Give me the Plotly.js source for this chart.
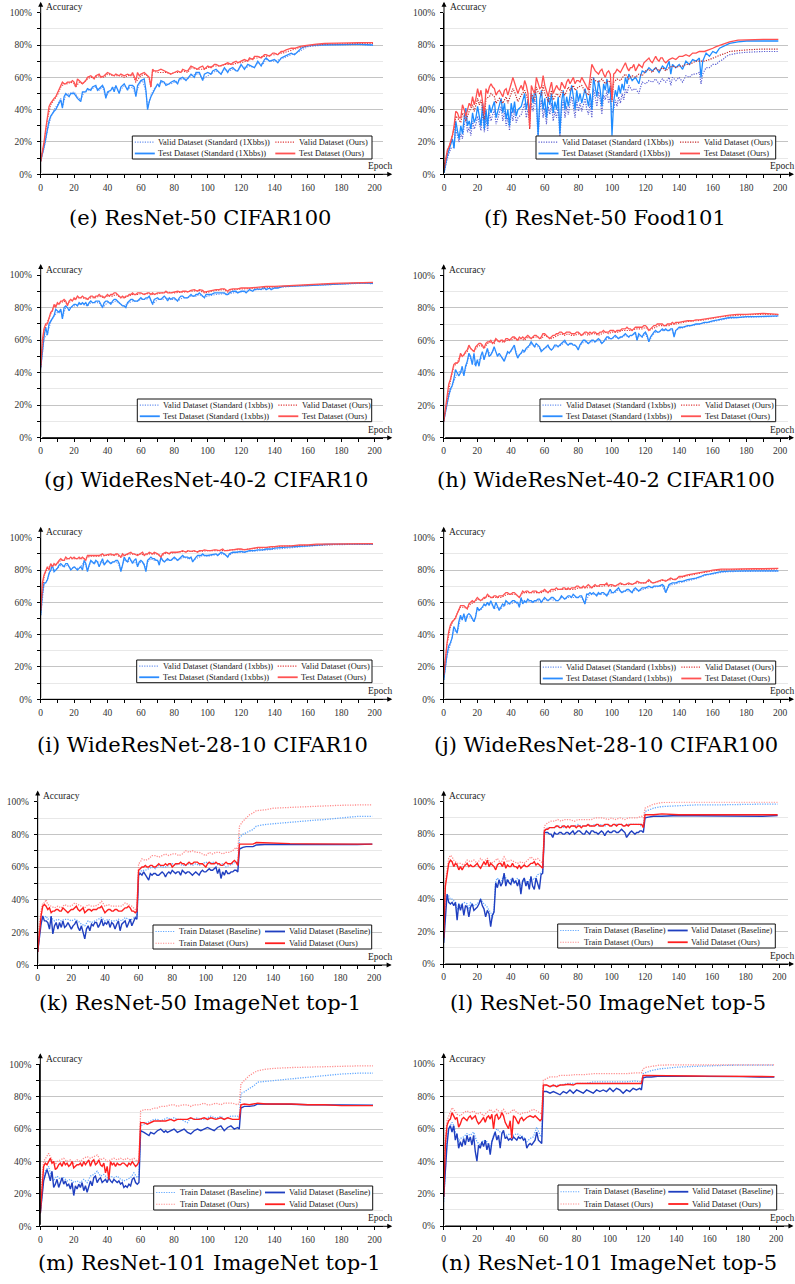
<!DOCTYPE html>
<html><head><meta charset="utf-8">
<script src="https://cdn.plot.ly/plotly-3.0.1.min.js"></script>
<style>html,body{margin:0;padding:0;background:#fff}#chart{width:795px;height:1284px}</style>
</head><body><div id="chart"></div>
<script>
// ===== DATA: [epoch, accuracy %] =====
const e_validStd=[[0,9],[2,16],[4,27],[6,35],[8,40],[10,43],[12,47],[13,42],[15,49],[18,50],[20,51],[22,48],[24,46],[26,51],[28,52],[30,53],[33,54],[35,52],[37,54],[39,48],[41,51],[43,53],[45,54],[47,51],[50,55],[52,53],[55,54],[57,49],[59,56],[61,58],[63,51],[64,41],[66,49],[68,53],[70,55],[72,57],[75,56],[78,56],[80,57],[83,58],[85,59],[88,59],[90,61],[93,62],[95,62],[97,59],[100,61],[103,63],[105,64],[108,62],[110,65],[113,64],[115,65],[118,64],[120,67],[123,66],[125,67],[128,66],[130,69],[133,68],[135,71],[138,70],[140,70],[143,71],[145,72],[148,73],[150,74],[153,75],[155,76],[158,78],[160,79],[165,79.5],[170,80],[180,80],[190,80.2],[199,79.7]];
const e_testStd=[[0,8],[1,12],[2,17],[3,22],[4,28],[5,33],[6,36],[7,38],[8,39],[9,40],[10,42],[11,44],[12,46],[13,41],[14,48],[15,50],[17,48],[18,50],[20,50],[22,47],[24,45],[25,51],[27,51],[28,53],[30,52],[31,54],[33,55],[34,52],[35,53],[37,55],[38,53],[39,47],[40,51],[42,52],[43,54],[44,51],[45,55],[47,50],[48,54],[50,56],[52,52],[53,55],[55,55],[56,54],[57,48],[58,55],[60,58],[62,59],[63,52],[64,40],[65,45],[66,48],[68,52],[70,56],[71,54],[72,58],[74,57],[75,55],[77,56],[78,57],[80,58],[82,56],[83,59],[85,60],[87,58],[89,61],[90,62],[92,60],[93,63],[95,63],[96,60],[97,58],[98,62],[100,63],[102,62],[103,64],[105,65],[107,63],[108,62],[110,66],[112,63],[113,65],[115,66],[117,64],[118,64],[120,68],[122,65],[124,68],[126,67],[128,66],[130,70],[132,67],[134,71],[135,72],[137,70],[139,71],[140,71],[142,69],[144,72],[146,73],[148,74],[150,75],[152,74],[154,76],[156,78],[158,79],[160,79.5],[165,80],[170,80],[180,80.3],[190,80.5],[195,80.3],[199,80]];
const e_validOurs=[[0,8],[2,19],[4,34],[6,43],[8,46],[10,49],[12,54],[14,56],[16,56],[18,57],[20,56],[21,54],[23,57],[25,56],[28,59],[30,60],[33,60],[35,61],[38,60],[40,62],[43,61],[45,61],[48,61],[50,60],[53,61],[55,62],[57,57],[59,60],[60,61],[63,62],[65,59],[66,54],[67,64],[70,63],[73,63],[75,63],[78,62],[80,63],[83,63],[85,64],[88,63],[90,66],[93,65],[95,65],[98,65],[100,66],[103,67],[105,67],[108,67],[110,68],[113,68],[115,68],[118,69],[120,69],[123,70],[125,71],[128,72],[130,72],[133,73],[135,73],[138,74],[140,74],[143,75],[145,75],[148,76],[150,77],[153,78],[155,78.5],[158,79],[160,79.5],[165,80],[170,80.5],[180,80.8],[190,81],[199,81]];
const e_testOurs=[[0,8],[1,13],[2,20],[3,28],[4,35],[5,42],[6,44],[7,46],[8,47],[9,48],[10,50],[11,53],[12,55],[13,57],[14,56],[15,56],[16,57],[18,57],[19,58],[20,57],[21,54],[22,59],[23,58],[25,56],[26,57],[27,58],[28,60],[30,61],[31,60],[32,59],[33,61],[35,62],[36,60],[38,61],[40,63],[42,62],[44,61],[45,62],[47,61],[48,62],[50,61],[52,62],[54,61],[55,63],[56,61],[57,58],[58,63],[59,61],[60,62],[62,63],[64,61],[65,60],[66,54],[67,65],[68,64],[70,64],[72,65],[74,64],[75,64],[77,63],[78,62],[80,63],[82,64],[84,63],[85,65],[87,64],[88,64],[90,67],[92,66],[94,65],[95,66],[97,67],[98,65],[100,67],[102,66],[104,68],[105,68],[107,67],[110,68],[112,69],[114,68],[115,69],[117,70],[118,69],[120,70],[122,71],[124,70],[125,72],[127,71],[128,73],[130,73],[132,72],[134,74],[135,74],[137,73],[139,75],[140,75],[142,74],[144,76],[145,76],[147,77],[150,78],[152,78],[154,79],[155,79],[157,79.5],[160,80],[165,80.5],[170,81],[175,81],[180,81],[185,81.3],[190,81.5],[195,81.5],[199,81.5]];

const f_validStd=[[0,1],[2,10],[4,16],[6,17],[7,28],[8,24],[9,20],[10,25],[11,22],[12,30],[13,36],[14,26],[15,29],[16,24],[17,33],[18,28],[19,31],[20,36],[21,32],[22,27],[23,39],[24,26],[25,35],[26,27],[27,38],[28,33],[29,37],[30,40],[31,31],[32,35],[33,38],[34,42],[35,33],[36,39],[37,30],[38,35],[39,27],[40,39],[41,33],[42,40],[43,32],[44,35],[46,37],[48,44],[49,35],[50,40],[51,33],[52,44],[53,39],[54,46],[55,42],[56,22],[57,40],[58,46],[59,35],[60,41],[61,31],[62,42],[63,37],[64,44],[65,33],[66,39],[67,35],[68,42],[69,22],[70,39],[71,46],[72,35],[73,42],[74,37],[75,44],[76,48],[77,42],[78,35],[79,46],[80,39],[81,44],[82,39],[84,47],[85,40],[86,37],[87,44],[88,35],[89,53],[90,48],[91,42],[92,51],[93,46],[94,37],[95,49],[96,46],[97,52],[98,44],[99,48],[100,38],[101,40],[102,46],[103,42],[104,48],[105,44],[106,50],[107,46],[108,53],[109,50],[110,55],[112,52],[114,53],[116,50],[117,54],[118,57],[120,56],[122,58],[124,57],[126,59],[128,56],[130,59],[132,57],[134,60],[135,55],[136,60],[138,58],[140,60],[142,57],[144,61],[146,60],[148,62],[150,62],[152,63],[153,56],[154,62],[156,66],[158,66],[160,68],[162,68],[164,70],[166,71],[168,73],[170,74],[175,75],[180,75.5],[190,76],[199,76]];
const f_testStd=[[0,1],[1,8],[2,12],[3,15],[4,18],[5,22],[6,16],[7,33],[8,27],[9,22],[10,30],[11,25],[12,35],[13,41],[14,30],[15,33],[16,28],[17,38],[18,32],[19,35],[20,42],[21,36],[22,30],[23,44],[24,28],[25,40],[26,30],[27,43],[28,38],[29,42],[30,45],[31,35],[32,40],[33,43],[34,47],[35,38],[36,44],[37,34],[38,40],[39,30],[40,44],[41,38],[42,45],[43,36],[44,40],[46,42],[48,50],[49,40],[50,46],[51,38],[52,50],[53,44],[54,52],[55,48],[56,24],[57,46],[58,52],[59,40],[60,47],[61,35],[62,48],[63,43],[64,50],[65,38],[66,45],[67,40],[68,48],[69,25],[70,45],[71,52],[72,40],[73,48],[74,42],[75,50],[76,55],[77,48],[78,40],[79,52],[80,45],[81,50],[82,44],[84,53],[85,46],[86,42],[87,50],[88,40],[89,60],[90,55],[91,48],[92,58],[93,52],[94,42],[95,56],[96,52],[97,59],[98,50],[99,55],[100,24],[101,45],[102,52],[103,48],[104,55],[105,50],[106,56],[107,52],[108,60],[109,56],[110,62],[112,58],[114,60],[116,56],[117,61],[118,64],[120,63],[122,66],[124,64],[126,66],[128,63],[130,67],[132,65],[134,70],[135,62],[136,68],[138,66],[140,68],[142,65],[144,70],[146,68],[148,71],[150,70],[152,72],[153,60],[154,70],[156,75],[158,73],[160,76],[162,75],[164,78],[166,79],[168,80],[170,81],[175,82],[180,82.5],[190,82.5],[199,82.5]];
const f_validOurs=[[0,5],[2,14],[4,20],[6,28],[7,36],[8,35],[10,32],[11,38],[12,36],[13,33],[15,39],[17,43],[18,39],[20,47],[21,43],[22,46],[23,40],[24,34],[25,47],[27,48],[28,50],[30,48],[31,44],[33,47],[35,44],[37,48],[38,44],[40,50],[41,53],[42,51],[44,45],[46,49],[48,52],[50,46],[51,28],[52,50],[54,46],[55,54],[56,51],[58,49],[59,55],[60,50],[62,45],[63,48],[64,52],[65,46],[67,50],[69,48],[70,52],[72,49],[74,54],[75,52],[77,55],[78,52],[80,54],[82,55],[84,51],[86,49],[88,60],[90,58],[92,57],[94,59],[96,56],[98,58],[99,57],[100,45],[101,57],[103,59],[105,58],[107,61],[108,62],[110,59],[112,61],[114,60],[116,62],[118,61],[120,64],[122,65],[124,63],[126,66],[128,64],[130,66],[132,64],[134,66],[136,67],[138,66],[140,67],[142,67],[144,68],[146,68],[148,69],[150,70],[152,70],[155,70],[158,71],[160,72],[162,73],[165,74],[168,75],[170,76],[175,76.5],[180,77],[190,77.5],[199,77.5]];
const f_testOurs=[[0,3],[1,8],[2,15],[3,17],[4,20],[5,24],[6,30],[7,39],[8,38],[9,35],[10,35],[11,43],[12,40],[13,36],[14,40],[15,44],[16,42],[17,48],[18,43],[19,47],[20,53],[21,48],[22,52],[23,44],[24,37],[25,53],[26,50],[27,54],[28,56],[29,54],[30,53],[31,49],[32,51],[33,52],[34,50],[35,48],[36,52],[37,53],[38,49],[39,52],[40,56],[41,60],[42,57],[43,54],[44,50],[45,53],[46,55],[47,52],[48,58],[49,55],[50,50],[51,29],[52,55],[53,52],[54,50],[55,60],[56,57],[57,53],[58,54],[59,61],[60,55],[61,52],[62,48],[63,53],[64,57],[65,50],[66,53],[67,55],[68,53],[69,52],[70,57],[71,55],[72,53],[73,57],[74,59],[75,56],[76,58],[77,60],[78,56],[79,58],[80,58],[81,57],[82,60],[83,58],[84,55],[85,54],[86,52],[87,60],[88,68],[89,66],[90,64],[91,63],[92,62],[93,64],[94,65],[95,62],[96,60],[97,63],[98,64],[99,62],[100,46],[101,62],[102,63],[103,65],[104,64],[105,63],[106,65],[107,67],[108,69],[109,66],[110,64],[111,66],[112,66],[113,68],[114,64],[115,66],[116,68],[117,67],[118,66],[119,69],[120,70],[121,71],[122,72],[123,70],[124,69],[125,71],[126,73],[127,71],[128,70],[129,72],[130,72],[131,70],[132,69],[134,71],[136,72],[138,71],[140,73],[142,73],[144,74],[146,73],[148,75],[150,75],[152,76],[155,76],[158,77],[160,78],[162,79],[165,80],[168,81],[170,82],[175,83],[180,83.3],[190,83.5],[199,83.5]];

const g_validStd=[[0,42],[2,61],[4,64],[6,71],[8,75],[10,77],[12,78],[13,74],[15,80],[18,80],[20,81],[23,82],[25,82],[28,81],[30,83],[33,83],[35,83],[37,80],[40,83],[43,83],[45,84],[48,82],[50,81],[53,83],[55,84],[58,84],[60,85],[63,85],[65,86],[67,82],[70,85],[73,85],[75,86],[78,85],[80,85],[82,84],[85,86],[88,86],[90,87],[93,87],[95,88],[98,86],[100,87],[105,88],[110,88.5],[112,88],[115,89],[120,89.5],[125,90.5],[130,91],[135,91.5],[140,92],[145,92.5],[150,93],[160,93.5],[170,94],[180,94.3],[190,94.8],[199,94.7]];
const g_testStd=[[0,43],[1,55],[2,62],[3,68],[4,63],[5,70],[6,72],[7,74],[8,75],[9,79],[10,78],[11,77],[12,79],[13,73],[14,80],[15,81],[16,80],[17,78],[18,80],[19,81],[20,82],[21,82],[22,81],[23,83],[24,82],[25,83],[26,82],[27,83],[28,81],[29,83],[30,84],[31,83],[32,83],[33,84],[34,84],[35,84],[36,82],[37,80],[38,83],[39,84],[40,84],[41,83],[42,82],[43,84],[44,85],[45,85],[46,84],[47,83],[48,82],[49,81],[50,81],[51,80],[52,83],[53,84],[54,85],[55,85],[56,84],[58,84],[60,86],[61,85],[62,85],[63,86],[64,86],[65,87],[66,85],[67,82],[68,85],[70,86],[71,85],[72,85],[73,86],[74,87],[75,86],[76,84],[77,86],[78,85],[79,86],[80,86],[81,85],[82,84],[83,86],[84,87],[85,87],[86,86],[87,86],[88,86],[89,87],[90,88],[91,87],[92,87],[93,88],[94,88],[95,89],[96,88],[97,87],[98,86],[99,88],[100,88],[102,88],[104,89],[105,89],[106,89],[108,89],[110,89],[111,88],[112,88],[113,89],[115,90],[117,90],[118,89],[120,90],[122,90],[123,89],[125,91],[127,90],[128,91],[130,91.5],[132,91],[133,92],[134,92],[135,91],[137,92],[138,91],[140,92],[142,92],[145,93],[148,93],[150,93],[155,93.3],[160,93.5],[165,93.8],[170,94],[175,94.3],[180,94.5],[185,94.7],[190,95],[195,95],[199,94.8]];
const g_validOurs=[[0,43],[2,66],[4,71],[6,76],[8,81],[10,82],[12,83],[14,84],[16,82],[18,84],[20,85],[22,86],[25,86],[28,85],[30,86],[33,86],[35,87],[38,86],[40,87],[43,87],[45,88],[48,86],[50,86],[53,87],[55,88],[58,88],[60,88.5],[63,88.5],[65,88.5],[68,88],[70,88.5],[75,89.5],[80,89],[85,89.5],[90,90],[95,90.5],[98,89],[100,89.5],[105,90.5],[110,91],[112,89.5],[115,91],[120,91.5],[125,91.7],[130,92],[140,92.7],[150,93.2],[160,93.8],[170,94.3],[180,94.8],[190,95.1],[199,95.3]];
const g_testOurs=[[0,44],[1,60],[2,67],[3,70],[4,70],[5,74],[6,77],[7,78],[8,82],[9,80],[10,83],[11,82],[12,84],[13,84],[14,85],[15,84],[16,81],[17,84],[18,85],[19,84],[20,86],[21,85],[22,87],[23,86],[24,86],[25,87],[26,86],[27,86],[28,85],[29,86],[30,87],[31,87],[32,86],[33,87],[34,87],[35,88],[36,87],[37,87],[38,86],[39,87],[40,88],[41,87],[42,88],[43,88],[44,89],[45,89],[46,88],[47,87],[48,86],[49,87],[50,86],[51,87],[52,87],[53,88],[54,88],[55,89],[56,88],[57,88],[58,89],[60,89],[62,88],[64,89],[65,89],[66,88],[67,89],[68,88],[70,89],[72,89],[74,89],[75,90],[76,89],[78,89],[80,89.5],[82,90],[84,89.5],[85,90],[87,90],[88,89.5],[90,90.5],[92,91],[94,90],[95,91],[97,90.5],[98,89.5],[100,90],[102,90.5],[104,91],[105,91],[107,91],[108,91.5],[110,91.5],[111,91],[112,90],[113,91],[115,91.5],[118,91.5],[120,92],[125,92],[130,92.5],[135,93],[140,93],[145,93.3],[150,93.5],[155,94],[160,94],[165,94.3],[170,94.5],[175,94.8],[180,95],[185,95.2],[190,95.3],[195,95.5],[199,95.5]];

const h_validStd=[[0,10],[2,21],[4,29],[6,35],[8,40],[10,41],[12,39],[14,46],[15,51],[17,46],[19,45],[20,47],[22,49],[24,49],[26,54],[28,51],[30,55],[32,51],[34,50],[36,48],[38,52],[40,53],[42,56],[44,50],[46,52],[48,53],[50,55],[52,58],[54,56],[56,56],[58,54],[60,55],[62,56],[64,54],[66,56],[68,56],[70,57],[72,59],[74,57],[76,58],[78,57],[80,55],[82,58],[84,59],[86,58],[88,59],[90,59],[92,60],[94,58],[96,60],[98,61],[100,61],[102,62],[104,61],[106,62],[108,63],[110,62],[112,63],[114,64],[115,60],[116,63],[118,62],[120,64],[122,59],[124,63],[126,65],[128,65],[130,66],[132,66],[134,66],[136,66],[137,63],[138,66],[140,67],[145,68.5],[150,69.5],[155,70.5],[160,71.5],[165,72.5],[170,73.5],[175,74],[180,74.2],[190,74.3],[199,74.7]];
const h_testStd=[[0,10],[1,16],[2,22],[3,26],[4,30],[5,32],[6,36],[7,42],[8,40],[9,38],[10,40],[11,44],[12,38],[13,44],[14,47],[15,52],[16,50],[17,45],[18,52],[19,44],[20,48],[21,44],[22,50],[23,53],[24,48],[25,52],[26,55],[27,50],[28,51],[29,53],[30,56],[31,53],[32,50],[33,52],[34,50],[35,48],[36,47],[37,50],[38,53],[39,52],[40,54],[41,55],[42,57],[43,52],[44,49],[45,51],[46,52],[47,54],[48,53],[49,55],[50,56],[51,57],[52,59],[53,57],[54,56],[55,58],[56,57],[57,56],[58,53],[59,54],[60,55],[61,56],[62,57],[63,55],[64,54],[65,55],[66,57],[67,57],[68,56],[70,58],[71,59],[72,60],[73,58],[74,57],[75,58],[76,58],[77,57],[78,57],[79,56],[80,54],[81,57],[82,59],[83,60],[84,60],[85,59],[86,58],[87,59],[88,60],[89,60],[90,59],[91,60],[92,61],[93,60],[94,58],[95,59],[96,61],[97,62],[98,62],[99,61],[100,61],[101,62],[102,63],[103,62],[104,61],[105,62],[106,62],[107,63],[108,64],[109,63],[110,62],[111,63],[112,63],[113,64],[114,65],[115,60],[116,64],[117,63],[118,62],[119,64],[120,65],[121,63],[122,59],[123,62],[124,64],[125,65],[126,66],[127,65],[128,65],[129,66],[130,67],[131,66],[132,67],[133,66],[134,66],[135,67],[136,67],[137,62],[138,66],[139,67],[140,68],[142,68],[144,69],[145,69],[147,69],[149,70],[150,70],[152,70],[154,71],[155,71],[157,71],[160,72],[163,72.5],[165,73],[168,73.5],[170,74],[175,74],[180,74.5],[185,74.5],[190,74.5],[195,74.8],[199,75]];
const h_validOurs=[[0,10],[2,24],[4,35],[6,44],[8,46],[10,51],[12,51],[14,53],[15,56],[18,53],[20,56],[22,57],[24,55],[26,58],[28,59],[30,58],[31,60],[34,59],[36,59],[38,60],[40,60],[42,61],[44,60],[46,61],[48,60],[50,62],[52,61],[54,62],[56,62],[58,61],[60,63],[62,62],[64,61],[66,62],[68,63],[70,64],[72,63],[74,64],[76,63],[78,63],[80,64],[82,63],[84,64],[86,63],[88,64],[90,64],[92,63],[94,64],[96,65],[98,64],[100,65],[102,65],[104,65],[106,66],[108,66],[110,66],[112,66],[114,67],[116,67],[118,67],[120,68],[122,66],[124,67],[126,68],[128,69],[130,69],[132,69],[134,69],[136,70],[138,70],[140,70.5],[145,71.5],[150,72],[155,72.5],[160,73.5],[165,74.5],[170,75],[175,75.5],[180,75.7],[190,76],[199,75.8]];
const h_testOurs=[[0,10],[1,18],[2,25],[3,33],[4,36],[5,40],[6,45],[7,46],[8,46],[9,47],[10,52],[11,50],[12,51],[13,53],[14,54],[15,57],[16,55],[17,54],[18,53],[19,56],[20,57],[21,58],[22,58],[23,57],[24,55],[25,58],[26,59],[27,59],[28,60],[29,58],[30,59],[31,61],[32,60],[33,59],[34,60],[35,60],[36,59],[37,61],[38,61],[39,60],[40,61],[41,62],[42,62],[43,61],[44,60],[45,62],[46,61],[47,62],[48,61],[49,62],[50,63],[51,62],[52,61],[53,62],[54,63],[55,63],[56,62],[57,61],[58,62],[59,64],[60,64],[61,63],[62,62],[63,61],[64,62],[65,63],[66,63],[67,64],[68,64],[69,65],[70,65],[71,64],[72,64],[73,65],[74,65],[75,65],[76,64],[77,64],[78,64],[79,65],[80,65],[81,64],[82,63],[83,64],[84,65],[85,65],[86,64],[87,65],[88,64],[89,65],[90,65],[91,64],[92,64],[93,65],[94,65],[95,66],[96,65],[97,65],[98,65],[99,66],[100,66],[101,66],[102,65],[103,66],[104,66],[105,66],[106,67],[107,67],[108,67],[109,68],[110,67],[111,67],[112,66],[113,67],[114,68],[115,68],[116,68],[117,68],[118,68],[119,69],[120,69],[121,68],[122,66],[123,67],[124,68],[125,69],[126,69],[127,70],[128,70],[129,70],[130,70],[131,69],[132,69],[133,70],[134,70],[135,70],[136,71],[137,70],[138,71],[139,71],[140,71],[142,71.5],[145,72],[148,72],[150,72.5],[152,72.5],[155,73],[158,73.5],[160,74],[163,74.5],[165,75],[168,75.3],[170,75.5],[173,75.8],[175,76],[180,76],[185,76.3],[190,76.5],[195,76.3],[199,76]];

const i_validStd=[[0,52],[2,71],[4,74],[6,80],[8,80],[10,81],[12,83],[14,82],[16,83],[18,81],[20,82],[22,81],[24,82],[26,85],[28,80],[30,85],[32,84],[34,85],[36,85],[38,84],[40,85],[42,84],[44,85],[46,85],[48,80],[50,86],[52,85],[54,86],[56,85],[58,83],[60,85],[62,84],[63,80],[64,85],[66,87],[68,86],[70,86],[71,84],[72,87],[74,85],[76,86],[78,86],[80,87],[82,86],[84,87],[86,88],[88,87],[90,88],[91,86],[93,87],[95,88],[97,89],[100,88.5],[105,89.5],[108,90],[110,89.5],[112,88.5],[115,90.5],[120,91],[125,91.5],[130,92],[135,92.5],[140,93],[150,94],[160,94.7],[170,95.5],[180,95.8],[190,95.9],[199,95.9]];
const i_testStd=[[0,52],[1,65],[2,72],[3,72],[4,74],[5,78],[6,80],[7,83],[8,79],[9,80],[10,81],[11,83],[12,84],[13,83],[14,82],[15,84],[16,84],[17,82],[18,80],[19,81],[20,82],[21,81],[22,80],[23,81],[24,82],[25,80],[26,86],[27,84],[28,79],[29,83],[30,86],[31,85],[32,84],[33,86],[34,85],[35,82],[36,85],[37,87],[38,83],[39,85],[40,86],[41,85],[42,84],[43,85],[44,85],[45,86],[46,86],[47,84],[48,79],[49,83],[50,88],[51,86],[52,85],[53,88],[54,86],[55,84],[56,86],[57,87],[58,82],[59,85],[60,86],[61,85],[62,83],[63,79],[64,86],[65,87],[66,88],[67,87],[68,87],[69,86],[70,86],[71,83],[72,88],[73,86],[74,85],[75,86],[76,87],[77,86],[78,86],[79,87],[80,88],[81,87],[82,86],[83,87],[84,88],[85,89],[86,88],[87,88],[88,88],[89,87],[90,88],[91,85],[92,87],[93,88],[94,89],[95,89],[96,89],[97,90],[98,89],[100,89],[102,89.5],[104,90],[105,90],[106,89],[108,91],[110,90],[111,89],[112,88],[113,90],[115,91],[117,91],[120,91.5],[122,91],[125,92],[128,92],[130,92.5],[133,92.5],[135,93],[138,93],[140,93.5],[145,94],[150,94.5],[155,94.7],[160,95],[165,95.5],[170,95.8],[175,96],[180,96],[190,96],[199,96]];
const i_validOurs=[[0,55],[2,76],[4,81],[6,83],[8,83],[10,84],[12,86],[14,86],[16,87],[18,87],[20,87],[22,87],[24,87],[26,87],[28,88],[30,88.5],[34,88.5],[38,89],[42,89.5],[45,89.5],[48,88],[50,89],[54,90],[58,89.5],[60,90],[62,89],[65,90],[70,90],[72,88.5],[75,90.5],[80,90.5],[85,91.5],[90,91.5],[95,91.5],[100,92],[105,92],[110,92],[115,92.5],[120,92.5],[125,93],[130,93.5],[135,94],[140,94.3],[145,94.7],[150,95],[160,95.4],[170,95.8],[180,96.1],[190,96.2],[199,96.2]];
const i_testOurs=[[0,55],[1,72],[2,77],[3,80],[4,82],[5,80],[6,84],[7,82],[8,84],[9,83],[10,85],[11,86],[12,87],[13,86],[14,86],[15,88],[16,87],[17,87],[18,88],[19,87],[20,88],[21,87],[22,87],[23,88],[24,87],[25,88],[26,87],[27,86],[28,89],[29,89],[30,89],[32,89],[34,89],[35,89],[37,90],[38,89],[40,89.5],[42,90],[44,89],[45,90],[46,90],[47,89],[48,88],[49,90],[50,89],[52,90],[54,91],[55,90],[56,90],[58,89],[60,90],[61,91],[62,89],[63,90],[64,90],[65,91],[67,90],[68,91],[70,90],[72,88],[73,90],[75,91],[77,90],[78,91],[80,91],[82,91],[84,91.5],[85,92],[87,91],[88,92],[90,91.5],[92,92],[94,91],[95,92],[97,92],[98,92.5],[100,92],[102,92],[104,92.5],[105,92.5],[107,92],[109,93],[110,92],[112,92],[114,92.5],[115,92.5],[118,93],[120,93],[122,92.5],[125,93],[127,93.5],[130,94],[133,94],[135,94],[138,94.5],[140,94.5],[143,95],[145,95],[148,95],[150,95],[155,95.5],[160,95.5],[165,96],[170,96],[175,96.2],[180,96.3],[190,96.3],[199,96.3]];

const j_validStd=[[0,12],[2,27],[4,34],[6,43],[8,41],[10,50],[12,51],[14,51],[16,51],[18,48],[20,56],[22,55],[24,58],[26,59],[28,60],[30,56],[32,57],[34,56],[36,58],[38,59],[40,59],[42,60],[44,59],[45,57],[46,62],[48,60],[50,61],[52,60],[54,60],[56,61],[58,60],[60,62],[62,61],[64,62],[66,61],[68,61],[70,63],[72,62],[74,63],[76,63],[78,63],[80,63],[82,63],[84,59],[86,64],[88,65],[90,65],[92,65],[94,65],[96,65],[98,65],[100,66],[102,66],[104,68],[106,66],[108,67],[110,67],[112,66],[114,68],[116,67],[118,68],[120,68.5],[125,69.5],[130,70],[132,66],[134,70],[136,71],[140,72],[145,73.5],[150,74.5],[155,76.5],[160,77.5],[165,78.5],[170,79],[180,79.3],[190,79.3],[199,79.3]];
const j_testStd=[[0,12],[1,22],[2,28],[3,33],[4,35],[5,38],[6,45],[7,43],[8,41],[9,48],[10,52],[11,49],[12,53],[13,48],[14,52],[15,53],[16,52],[17,50],[18,48],[19,51],[20,57],[21,55],[22,56],[23,57],[24,59],[25,58],[26,60],[27,58],[28,61],[29,58],[30,56],[31,60],[32,57],[33,55],[34,57],[35,59],[36,58],[37,61],[38,60],[39,59],[40,60],[41,61],[42,61],[43,60],[44,60],[45,57],[46,63],[47,59],[48,61],[49,60],[50,62],[51,61],[52,61],[53,60],[54,61],[55,61],[56,62],[57,62],[58,60],[59,62],[60,63],[61,62],[62,61],[63,62],[64,63],[65,63],[66,62],[67,61],[68,61],[69,62],[70,64],[71,63],[72,62],[73,63],[74,64],[75,64],[76,63],[77,65],[78,64],[79,63],[80,63],[81,64],[82,64],[83,62],[84,59],[85,65],[86,65],[87,66],[88,65],[89,66],[90,65],[91,64],[92,66],[93,65],[94,66],[95,66],[96,65],[97,64],[98,66],[99,68],[100,66],[101,66],[102,67],[103,68],[104,69],[105,67],[106,66],[107,67],[108,67],[109,68],[110,68],[111,67],[112,66],[113,68],[114,69],[115,68],[116,67],[117,68],[118,69],[119,69],[120,69],[122,70],[124,69],[125,70],[127,70],[128,70],[130,71],[131,70],[132,66],[133,69],[134,71],[136,72],[138,72],[140,73],[142,73],[145,74],[148,74.5],[150,75],[153,76],[155,77],[158,77.5],[160,78],[163,78.5],[165,79],[170,79.3],[175,79.5],[180,79.5],[190,79.5],[199,79.5]];
const j_validOurs=[[0,15],[2,34],[4,45],[6,49],[8,52],[10,57],[12,57],[14,56],[16,59],[18,60],[20,62],[22,61],[24,62],[26,64],[28,63],[30,63],[32,63],[34,63],[36,64],[38,65],[40,65],[42,65],[44,64],[45,63],[47,66],[50,66],[52,66],[55,66],[58,66],[60,67],[62,66],[65,67],[68,68],[70,68],[72,68],[75,68],[78,68],[80,69],[82,69],[85,69],[88,69],[90,70],[92,70],[95,70],[97,71],[100,70],[105,71],[110,71],[115,72],[120,72],[122,73],[125,72],[130,73.5],[135,74],[140,75],[145,76.5],[150,77.5],[155,78.5],[160,79.5],[165,80],[170,80.3],[180,80.5],[190,80.5],[199,80.6]];
const j_testOurs=[[0,15],[1,27],[2,35],[3,42],[4,46],[5,48],[6,49],[7,50],[8,53],[9,56],[10,58],[11,58],[12,58],[13,57],[14,56],[15,59],[16,60],[17,61],[18,60],[19,62],[20,63],[21,62],[22,61],[23,62],[24,63],[25,63],[26,65],[27,64],[28,63],[29,63],[30,64],[31,64],[32,63],[33,64],[34,64],[35,64],[36,65],[37,66],[38,66],[39,65],[40,65],[41,66],[42,66],[43,65],[44,64],[45,63],[46,65],[47,67],[48,66],[49,67],[50,67],[51,66],[52,66],[53,67],[54,67],[55,67],[56,66],[57,66],[58,67],[59,67],[60,68],[61,67],[62,66],[63,67],[64,68],[65,68],[66,68],[67,69],[68,68],[69,68],[70,68],[71,69],[72,69],[73,68],[74,69],[75,68],[76,69],[77,69],[78,69],[79,70],[80,70],[81,69],[82,69],[83,70],[84,69],[85,70],[86,71],[87,70],[88,69],[89,70],[90,71],[91,70],[92,70],[93,71],[94,71],[95,71],[96,71],[97,72],[98,70],[99,71],[100,71],[102,70],[104,71],[105,72],[107,71],[108,71],[110,72],[112,71],[114,72],[115,73],[117,72],[118,72],[120,72],[122,74],[124,72],[125,72],[127,73],[128,73],[130,74],[132,73],[134,74],[135,75],[137,74],[138,74],[140,76],[142,76],[145,77],[148,77.5],[150,78],[153,78.5],[155,79],[158,79.5],[160,80],[163,80.3],[165,80.5],[170,80.5],[175,80.7],[180,81],[185,80.8],[190,80.8],[195,80.8],[199,81]];

const k_trainBase=[[0,8],[1,20],[2,26],[3,29],[4,29],[5,30],[6,28],[8,29],[10,27],[12,28],[14,27],[16,28],[18,28],[20,27],[22,28],[24,27],[26,25],[28,24],[30,27],[32,26],[34,27],[36,28],[38,29],[40,27],[42,28],[44,27],[46,27],[48,28],[50,27],[52,29],[54,28],[56,28],[58,29],[59,30],[60,56],[62,58],[64,58],[66,59],[68,60],[70,59],[72,61],[74,60],[76,60],[78,61],[80,62],[82,61],[84,62],[86,61],[88,61],[90,62],[92,61],[94,62],[96,61],[98,62],[100,63],[102,62],[104,63],[106,62],[108,61],[110,62],[112,60],[114,61],[116,62],[118,63],[119,62],[120,78],[121,79],[122,80],[124,81],[126,82],[128,83],[130,85],[132,85.5],[135,86],[140,86.5],[145,87],[150,87.5],[155,88],[160,88.5],[165,88.7],[170,89],[175,89.5],[180,90],[185,90.5],[190,91],[195,91],[199,91]];
const k_validBase=[[0,8],[1,18],[2,25],[3,30],[4,27],[5,27],[6,26],[7,22],[8,30],[9,19],[10,24],[11,26],[12,22],[13,26],[14,23],[15,27],[16,23],[17,24],[18,26],[19,24],[20,22],[21,24],[22,25],[23,27],[24,23],[25,21],[26,24],[27,20],[28,16],[29,22],[30,24],[31,21],[32,25],[33,24],[34,26],[35,26],[36,23],[37,25],[38,28],[39,24],[40,26],[41,25],[42,27],[43,23],[44,26],[45,25],[46,22],[47,25],[48,27],[49,21],[50,25],[51,26],[52,27],[53,23],[54,26],[55,28],[56,24],[57,27],[58,29],[59,28],[60,55],[61,56],[62,55],[63,57],[64,55],[65,53],[66,52],[67,56],[68,55],[69,56],[70,56],[71,55],[72,55],[73,56],[74,57],[75,56],[76,54],[77,56],[78,57],[79,56],[80,58],[81,57],[82,56],[83,57],[84,57],[85,55],[86,58],[87,57],[88,56],[89,57],[90,57],[91,56],[92,55],[93,56],[94,57],[95,56],[96,55],[97,57],[98,58],[99,57],[100,57],[101,58],[102,59],[103,58],[104,58],[105,59],[106,60],[107,56],[108,59],[109,53],[110,57],[111,55],[112,58],[113,56],[114,56],[115,57],[116,57],[117,58],[118,58],[119,57],[120,71],[122,72],[124,72.5],[126,72.5],[128,72.5],[129,73],[130,73.5],[135,73.8],[140,73.8],[150,73.7],[160,73.6],[170,73.5],[180,73.5],[190,73.8],[199,74]];
const k_trainOurs=[[0,8],[1,25],[2,33],[3,38],[4,38],[5,40],[6,37],[8,36],[10,35],[12,36],[14,35],[16,37],[18,36],[20,36],[22,38],[24,37],[26,36],[28,35],[30,37],[32,36],[34,36],[36,37],[38,39],[40,36],[42,37],[44,36],[46,36],[48,36],[50,36],[52,38],[54,37],[56,36],[58,34],[59,35],[60,62],[61,63],[62,65],[64,64],[66,65],[68,67],[70,67],[72,66],[74,67],[76,68],[78,67],[80,68],[82,68],[84,67],[86,68],[88,70],[90,69],[92,70],[94,69],[96,69],[98,68],[100,67],[102,69],[104,68],[106,69],[108,69],[110,68],[112,69],[114,69],[116,70],[118,72],[119,70],[120,85],[121,87],[122,88],[124,90],[126,92],[128,93],[130,94.5],[135,95],[140,96],[150,96.5],[160,97],[170,97.5],[180,97.8],[190,98],[199,98]];
const k_validOurs=[[0,8],[1,22],[2,30],[3,36],[4,37],[5,36],[6,34],[7,35],[8,32],[9,33],[10,33],[11,34],[12,34],[13,33],[14,33],[15,35],[16,34],[17,33],[18,32],[19,33],[20,34],[21,34],[22,35],[23,36],[24,34],[25,33],[26,34],[27,35],[28,32],[29,33],[30,34],[31,34],[32,33],[33,34],[34,34],[35,34],[36,35],[37,35],[38,36],[39,34],[40,32],[41,33],[42,34],[43,34],[44,33],[45,33],[46,34],[47,34],[48,33],[49,33],[50,33],[51,34],[52,35],[53,35],[54,36],[55,35],[56,33],[57,33],[58,32],[59,33],[60,58],[61,59],[62,60],[63,60],[64,61],[65,60],[66,60],[67,61],[68,61],[69,60],[70,60],[71,61],[72,62],[73,61],[74,61],[75,61],[76,62],[77,61],[78,62],[79,62],[80,60],[81,61],[82,62],[83,62],[84,62],[85,63],[86,62],[87,62],[88,61],[89,62],[90,63],[91,62],[92,62],[93,63],[94,63],[95,63],[96,62],[97,62],[98,62],[99,61],[100,60],[101,62],[102,63],[103,62],[104,62],[105,62],[106,63],[107,62],[108,62],[109,61],[110,61],[111,62],[112,63],[113,62],[114,62],[115,62],[116,63],[117,64],[118,63],[119,61],[120,74],[122,74],[125,74],[128,74],[130,75],[135,74.8],[140,74.5],[150,74.3],[160,74.2],[170,74],[180,74],[190,74],[199,74]];

const l_trainBase=[[0,15],[1,35],[2,43],[3,42],[4,40],[5,40],[6,39],[7,38],[8,33],[9,37],[10,36],[12,38],[14,37],[15,33],[16,38],[18,36],[20,37],[22,40],[24,37],[26,35],[27,33],[28,32],[29,28],[30,34],[31,51],[32,53],[34,50],[36,55],[38,51],[40,52],[42,50],[44,53],[46,48],[48,52],[50,50],[52,53],[54,52],[56,55],[58,56],[59,57],[60,82],[62,84],[64,84],[66,84],[68,85],[70,85],[72,84],[74,85],[76,85],[78,85],[80,86],[82,85],[84,85],[86,86],[88,85],[90,86],[92,85],[94,86],[96,85],[98,86],[100,85],[102,86],[104,86],[106,86],[108,85],[110,86],[112,86],[114,86],[116,86],[118,85],[119,86],[120,94],[122,95],[125,96],[130,97],[140,97.5],[150,98],[160,98],[170,98.3],[180,98.3],[190,98.5],[199,98.5]];
const l_validBase=[[0,13],[1,30],[2,43],[3,38],[4,37],[5,38],[6,36],[7,38],[8,27],[9,37],[10,33],[11,37],[12,30],[13,36],[14,35],[15,29],[16,35],[17,37],[18,33],[19,34],[20,35],[21,37],[22,40],[23,36],[24,34],[25,29],[26,33],[27,31],[28,23],[29,30],[30,32],[31,50],[32,47],[33,52],[34,48],[35,50],[36,56],[37,48],[38,52],[39,50],[40,49],[41,53],[42,50],[43,51],[44,48],[45,52],[46,43],[47,51],[48,53],[49,48],[50,51],[51,46],[52,54],[53,48],[54,46],[55,53],[56,50],[57,46],[58,55],[59,56],[60,81],[61,81],[62,81],[63,80],[64,80],[65,78],[66,81],[67,80],[68,80],[69,81],[70,81],[71,80],[72,80],[73,81],[74,81],[75,80],[76,81],[77,82],[78,80],[79,81],[80,82],[81,82],[82,81],[83,80],[84,80],[85,82],[86,81],[87,80],[88,82],[89,82],[90,81],[91,81],[92,80],[93,81],[94,82],[95,81],[96,79],[97,81],[98,82],[99,81],[100,81],[101,82],[102,82],[103,81],[104,81],[105,82],[106,83],[107,82],[108,81],[109,78],[110,80],[111,81],[112,82],[113,81],[114,80],[115,81],[116,81],[117,82],[118,82],[119,81],[120,90],[122,90.5],[125,91],[130,91],[140,91.5],[150,91.3],[160,91.3],[170,91.3],[180,91.2],[190,91],[199,91.5]];
const l_trainOurs=[[0,20],[1,50],[2,58],[3,65],[4,67],[5,66],[6,64],[8,62],[10,62],[12,61],[14,64],[16,63],[18,64],[20,62],[22,65],[24,63],[26,65],[28,62],[30,63],[32,65],[34,62],[36,66],[38,63],[40,64],[42,63],[44,62],[46,63],[48,62],[50,64],[52,66],[54,64],[56,65],[58,63],[59,62],[60,85],[62,87],[64,88],[66,88],[68,89],[70,88],[72,89],[75,89],[78,88],[80,89],[82,89],[85,89],[88,89],[90,90],[92,90],[95,90],[98,89],[100,90],[102,89],[105,90],[108,89],[110,90],[112,90],[115,90],[118,91],[119,90],[120,96],[122,97],[125,98.5],[128,99],[130,99.5],[140,99.8],[160,99.8],[180,99.8],[199,99.8]];
const l_validOurs=[[0,16],[1,48],[2,55],[3,62],[4,64],[5,63],[6,60],[7,62],[8,61],[9,58],[10,60],[11,58],[12,60],[13,61],[14,62],[15,60],[16,61],[17,60],[18,60],[19,61],[20,62],[21,60],[22,59],[23,61],[24,63],[25,61],[26,64],[27,60],[28,62],[29,61],[30,60],[31,58],[32,61],[33,62],[34,62],[35,60],[36,63],[37,59],[38,61],[39,60],[40,60],[41,62],[42,60],[43,60],[44,59],[45,61],[46,59],[47,60],[48,61],[49,60],[50,60],[51,61],[52,62],[53,62],[54,63],[55,61],[56,62],[57,61],[58,60],[59,59],[60,82],[61,83],[62,83],[63,84],[64,84],[65,84],[66,84],[67,85],[68,85],[69,84],[70,84],[71,85],[72,85],[73,84],[74,85],[75,84],[76,85],[77,85],[78,85],[79,84],[80,85],[81,85],[82,84],[83,85],[84,85],[85,85],[86,86],[87,85],[88,85],[89,85],[90,85],[91,86],[92,86],[93,85],[94,85],[95,85],[96,86],[97,86],[98,86],[99,85],[100,85],[101,86],[102,86],[103,85],[104,86],[105,86],[106,86],[107,85],[108,85],[109,86],[110,85],[111,86],[112,86],[113,86],[114,86],[115,86],[116,86],[117,86],[118,86],[119,84],[120,92],[122,92],[125,92],[130,92.5],[140,92],[150,92],[160,92],[170,92],[180,92],[190,92],[199,92]];

const m_trainBase=[[0,8],[1,22],[2,30],[3,34],[4,36],[5,37],[6,33],[7,31],[8,28],[9,30],[10,31],[12,29],[14,30],[16,28],[18,29],[20,27],[22,28],[24,27],[26,29],[28,27],[30,31],[32,32],[34,34],[36,31],[38,32],[40,30],[42,31],[44,30],[46,31],[48,29],[50,28],[52,29],[54,30],[56,33],[58,30],[59,31],[60,62],[62,63],[64,64],[66,65],[68,66],[70,66],[72,65],[74,66],[76,67],[78,66],[80,67],[82,66],[84,66],[86,65],[88,64],[90,67],[92,66],[94,67],[96,66],[98,66],[100,67],[102,68],[104,67],[106,67],[108,68],[110,66],[112,67],[114,68],[116,68],[118,68],[119,67],[120,82],[122,83],[125,85],[128,87],[130,89],[135,89.5],[140,90],[150,91],[160,92],[170,93],[180,94],[190,94.5],[199,94.5]];
const m_validBase=[[0,8],[1,20],[2,28],[3,32],[4,35],[5,32],[6,28],[7,34],[8,24],[9,26],[10,29],[11,24],[12,27],[13,30],[14,26],[15,28],[16,25],[17,26],[18,23],[19,27],[20,19],[21,25],[22,23],[23,26],[24,24],[25,27],[26,22],[27,25],[28,21],[29,24],[30,28],[31,25],[32,30],[33,31],[34,27],[35,29],[36,30],[37,27],[38,28],[39,29],[40,27],[41,30],[42,28],[43,27],[44,29],[45,28],[46,27],[47,28],[48,26],[49,27],[50,24],[51,25],[52,24],[53,26],[54,25],[55,29],[56,30],[57,27],[58,26],[59,27],[60,59],[62,58],[64,57],[65,56],[66,58],[68,57],[70,59],[72,60],[74,58],[75,59],[76,58],[78,59],[80,60],[82,58],[84,59],[86,60],[88,58],[90,57],[92,59],[94,60],[96,59],[98,60],[100,61],[102,60],[104,59],[106,61],[108,62],[110,59],[112,61],[114,62],[116,60],[118,61],[119,60],[120,73],[122,74],[125,74],[128,74.5],[130,75.5],[135,75.5],[140,75.5],[150,75.3],[160,75],[170,75],[180,75],[190,74.8],[199,74.8]];
const m_trainOurs=[[0,10],[1,30],[2,40],[3,42],[4,43],[5,45],[6,43],[7,41],[8,40],[9,38],[10,40],[12,41],[14,42],[16,40],[18,41],[20,39],[22,41],[24,40],[26,42],[28,43],[30,42],[32,43],[34,44],[36,41],[38,42],[40,40],[42,41],[44,42],[46,41],[48,42],[50,41],[52,42],[54,41],[56,42],[58,40],[59,41],[60,71],[62,72],[64,72],[66,72],[68,73],[70,73],[72,74],[75,74],[78,75],[80,75],[82,74],[85,75],[88,75],[90,74],[92,75],[95,75],[98,76],[100,75],[102,75],[105,76],[108,75],[110,76],[112,76],[115,76],[118,75],[119,76],[120,88],[122,90],[125,93],[128,95],[130,96],[135,97],[140,97.5],[150,98],[160,98.3],[170,98.5],[180,98.7],[190,99],[199,99]];
const m_validOurs=[[0,8],[1,25],[2,37],[3,39],[4,38],[5,40],[6,42],[7,39],[8,40],[9,35],[10,36],[11,38],[12,39],[13,37],[14,40],[15,38],[16,39],[17,37],[18,38],[19,40],[20,36],[21,37],[22,38],[23,38],[24,39],[25,37],[26,40],[27,38],[28,40],[29,41],[30,37],[31,40],[32,41],[33,38],[34,39],[35,41],[36,38],[37,37],[38,39],[39,33],[40,37],[41,29],[42,40],[43,38],[44,39],[45,37],[46,39],[47,38],[48,38],[49,39],[50,39],[51,38],[52,37],[53,39],[54,38],[55,40],[56,38],[57,37],[58,38],[59,40],[60,64],[62,64],[64,63],[66,64],[68,65],[70,65],[72,65],[75,65],[78,66],[80,65],[82,66],[85,66],[88,66],[90,67],[92,66],[95,66],[98,67],[100,66],[102,67],[105,66],[108,67],[110,66],[112,67],[115,66],[118,66],[119,66],[120,75],[122,75.5],[125,75],[128,75.5],[130,76],[135,75.5],[140,75.5],[150,75.5],[160,75],[170,75],[180,74.5],[190,74.5],[199,74.5]];

const n_trainBase=[[0,15],[1,40],[2,55],[3,60],[4,62],[5,64],[6,62],[7,58],[8,56],[9,52],[10,54],[12,55],[14,57],[16,56],[18,58],[20,52],[22,50],[24,53],[26,52],[28,48],[30,56],[32,60],[34,58],[36,57],[38,56],[40,57],[42,56],[44,57],[46,56],[48,55],[50,52],[52,54],[54,55],[56,61],[58,56],[59,55],[60,86],[62,87],[65,86],[68,87],[70,87],[75,88],[80,88],[85,88],[90,89],[95,89],[100,89],[105,89],[110,89],[115,89.5],[119,89],[120,94],[122,95],[125,96],[130,97],[140,98],[150,98.5],[160,99],[170,99.2],[180,99.3],[199,99.3]];
const n_validBase=[[0,18],[1,38],[2,50],[3,60],[4,62],[5,58],[6,62],[7,53],[8,57],[9,48],[10,52],[11,49],[12,54],[13,50],[14,56],[15,52],[16,55],[17,50],[18,56],[19,46],[20,40],[21,50],[22,48],[23,52],[24,49],[25,53],[26,47],[27,51],[28,44],[29,52],[30,55],[31,58],[32,53],[33,56],[34,48],[35,57],[36,59],[37,54],[38,55],[39,53],[40,54],[41,53],[42,55],[43,54],[44,53],[45,55],[46,54],[47,55],[48,53],[49,54],[50,48],[51,50],[52,51],[53,50],[54,52],[55,53],[56,58],[57,53],[58,52],[59,51],[60,83],[62,83],[64,82],[66,83],[68,82],[70,81],[72,83],[74,82],[76,84],[78,82],[80,84],[82,83],[84,82],[86,84],[88,83],[90,82],[92,84],[94,83],[96,84],[98,83],[100,85],[102,83],[104,85],[106,84],[108,82],[110,84],[112,83],[114,85],[116,84],[118,85],[119,84],[120,91.5],[122,92],[125,92],[130,92.5],[140,92.5],[150,92.3],[160,92.3],[170,92.2],[180,92.2],[190,92],[199,92]];
const n_trainOurs=[[0,20],[1,55],[2,65],[3,68],[4,70],[5,73],[6,72],[7,70],[8,69],[10,68],[12,70],[14,71],[16,70],[18,71],[20,69],[22,70],[24,68],[26,70],[28,72],[30,70],[32,72],[34,70],[36,72],[38,69],[40,70],[42,72],[44,70],[46,69],[48,70],[50,70],[52,71],[54,72],[56,71],[58,70],[59,69],[60,90],[62,91],[64,92],[66,92],[68,92],[70,93],[75,93],[80,93.5],[85,93.5],[90,94],[95,94],[100,94],[105,94],[110,94],[115,94.5],[119,94.5],[120,97],[122,98],[125,98.5],[130,99.3],[140,99.5],[160,99.5],[180,99.5],[199,99.5]];
const n_validOurs=[[0,18],[1,50],[2,62],[3,65],[4,66],[5,70],[6,68],[7,66],[8,67],[9,61],[10,63],[11,66],[12,67],[13,66],[14,65],[15,67],[16,68],[17,66],[18,67],[19,68],[20,65],[21,63],[22,64],[23,66],[24,67],[25,64],[26,67],[27,68],[28,66],[29,69],[30,60],[31,68],[32,69],[33,66],[34,67],[35,70],[36,68],[37,64],[38,62],[39,60],[40,65],[41,54],[42,68],[43,67],[44,65],[45,63],[46,66],[47,67],[48,65],[49,66],[50,67],[52,68],[54,67],[55,68],[56,67],[57,66],[58,65],[59,66],[60,87],[62,87],[64,86],[66,87],[68,86],[70,87],[72,87],[75,87.5],[78,87],[80,88],[85,88],[90,88],[95,88],[100,88],[105,88],[110,88],[115,88],[119,88],[120,93],[125,93],[130,93],[140,92.8],[150,92.6],[160,92.5],[170,92.4],[180,92.3],[190,92.2],[199,92.2]];

// ===== labels =====
const captions=['(e) ResNet-50 CIFAR100','(f) ResNet-50 Food101','(g) WideResNet-40-2 CIFAR10','(h) WideResNet-40-2 CIFAR100','(i) WideResNet-28-10 CIFAR10','(j) WideResNet-28-10 CIFAR100','(k) ResNet-50 ImageNet top-1','(l) ResNet-50 ImageNet top-5','(m) ResNet-101 ImageNet top-1','(n) ResNet-101 ImageNet top-5'];
const namesX=['Valid Dataset (Standard (1Xbbs))','Test Dataset (Standard (1Xbbs))','Valid Dataset (Ours)','Test Dataset (Ours)'];
const namesx=['Valid Dataset (Standard (1xbbs))','Test Dataset (Standard (1xbbs))','Valid Dataset (Ours)','Test Dataset (Ours)'];
const namesIN=['Train Dataset (Baseline)','Valid Dataset (Baseline)','Train Dataset (Ours)','Valid Dataset (Ours)'];

// ===== layout config (pixel geometry) =====
const W=795,H=1284;
const panels=[
 {kind:'c',scheme:'A',names:namesX,data:[e_validStd,e_testStd,e_validOurs,e_testOurs],g:{x0:40.7,x200:374.7,y0:174.3,y100:12.7},cap:[200,218],leg:{l:132.3,t:136,w:239.7,h:23,c2:143}},
 {kind:'c',scheme:'F',names:namesX,data:[f_validStd,f_testStd,f_validOurs,f_testOurs],g:{x0:444,x200:780,y0:174.3,y100:12.7},cap:[605,218],leg:{l:536,t:136,w:239.7,h:23,c2:144}},
 {kind:'c',scheme:'A',names:namesx,data:[g_validStd,g_testStd,g_validOurs,g_testOurs],g:{x0:40.7,x200:374.7,y0:437.7,y100:275},cap:[206,480],leg:{l:137.3,t:399,w:234.4,h:22.7,c2:141}},
 {kind:'c',scheme:'A',names:namesx,data:[h_validStd,h_testStd,h_validOurs,h_testOurs],g:{x0:443.7,x200:780,y0:437.7,y100:275.3},cap:[606,480],leg:{l:540,t:399,w:235.7,h:22.7,c2:141}},
 {kind:'c',scheme:'A',names:namesx,data:[i_validStd,i_testStd,i_validOurs,i_testOurs],g:{x0:40.7,x200:374.7,y0:699.3,y100:537.7},cap:[202,745],leg:{l:136.7,t:660,w:235.3,h:22.7,c2:141}},
 {kind:'c',scheme:'A',names:namesx,data:[j_validStd,j_testStd,j_validOurs,j_testOurs],g:{x0:443.7,x200:780,y0:699.3,y100:537.7},cap:[606,745],leg:{l:540.3,t:661,w:235.4,h:23,c2:141}},
 {kind:'i',scheme:'I',names:namesIN,data:[k_trainBase,k_validBase,k_trainOurs,k_validOurs],g:{x0:37.7,x200:374,y0:965,y100:801.7},cap:[200,1003],leg:{l:153,t:925,w:218.7,h:24,c2:112}},
 {kind:'i',scheme:'I',names:namesIN,data:[l_trainBase,l_validBase,l_trainOurs,l_validOurs],g:{x0:443.7,x200:779.3,y0:964,y100:801.7},cap:[608,1003],leg:{l:557.7,t:924,w:217.6,h:24,c2:110}},
 {kind:'i',scheme:'I',names:namesIN,data:[m_trainBase,m_validBase,m_trainOurs,m_validOurs],g:{x0:40.3,x200:374.7,y0:1226.3,y100:1064.3},cap:[209,1263],leg:{l:153.7,t:1186,w:219,h:24,c2:111.3}},
 {kind:'i',scheme:'I',names:namesIN,data:[n_trainBase,n_validBase,n_trainOurs,n_validOurs],g:{x0:443.7,x200:776,y0:1226,y100:1064},cap:[609,1263],leg:{l:558,t:1185,w:218.7,h:25,c2:110.3}}
];
const DOT='1.2px,1.3px';
const schemes={
 A:[{c:'#6a92ee',d:DOT,w:1.1},{c:'#2b8cff',d:'solid',w:1.3},{c:'#e03a3a',d:DOT,w:1.1},{c:'#ff5353',d:'solid',w:1.3}],
 F:[{c:'#5c60d2',d:DOT,w:1.2},{c:'#1e8cff',d:'solid',w:1.3},{c:'#c42828',d:DOT,w:1.2},{c:'#ff5050',d:'solid',w:1.3}],
 I:[{c:'#62a8ff',d:DOT,w:1.3},{c:'#1f3fc0',d:'solid',w:1.4},{c:'#ff8c8c',d:DOT,w:1.3},{c:'#ff1f1f',d:'solid',w:1.4}]
};
const serif='Liberation Serif, Times New Roman, serif';
const PX=x=>x/W, PY=y=>1-y/H;

const traces=[],layout={width:W,height:H,margin:{l:0,r:0,t:0,b:0},paper_bgcolor:'#fff',plot_bgcolor:'#fff',showlegend:false,annotations:[],shapes:[],font:{family:serif,color:'#222'}};

panels.forEach((p,idx)=>{
  const n=idx+1, sfx=n===1?'':String(n);
  const g=p.g, ppx=(g.x200-g.x0)/200, ppy=(g.y0-g.y100)/100;
  layout['xaxis'+sfx]={domain:[PX(g.x0),PX(g.x0+205*ppx)],range:[0,205],anchor:'y'+sfx,showline:true,linecolor:'#000',linewidth:1,
    ticks:'outside',ticklen:3,tickwidth:1,tickcolor:'#000',tick0:0,dtick:20,showgrid:false,zeroline:false,ticklabelstandoff:1,
    tickfont:{family:serif,size:9.5,color:'#333'},minor:{tick0:0,dtick:10,ticks:'outside',ticklen:3,tickcolor:'#000',showgrid:false},fixedrange:true};
  layout['yaxis'+sfx]={domain:[PY(g.y0),PY(g.y100)],range:[0,100],anchor:'x'+sfx,showline:true,linecolor:'#000',linewidth:1,
    ticks:'outside',ticklen:3,tickwidth:1,tickcolor:'#000',tick0:0,dtick:20,ticksuffix:'%',showgrid:true,gridcolor:'#c4c4c4',gridwidth:1,zeroline:false,ticklabelstandoff:3,
    tickfont:{family:serif,size:9.5,color:'#333'},minor:{tick0:0,dtick:10,ticks:'outside',ticklen:3,tickcolor:'#000',showgrid:true,gridcolor:'#e8e8e8',gridwidth:1},fixedrange:true};
  const st=schemes[p.scheme];
  p.data.forEach((s,k)=>{
    traces.push({type:'scatter',mode:'lines',x:s.map(v=>v[0]),y:s.map(v=>v[1]),xaxis:'x'+sfx,yaxis:'y'+sfx,name:p.names[k],
      line:{color:st[k].c,dash:st[k].d,width:st[k].w},hoverinfo:'skip',showlegend:false});
  });
  // axis arrows
  const xlen=210.5*ppx, ylen=106.8*ppy;
  layout.annotations.push({xref:'paper',yref:'paper',x:PX(g.x0+xlen),y:PY(g.y0),ax:-xlen,ay:0,text:'',showarrow:true,arrowhead:2,arrowsize:1,arrowwidth:1,arrowcolor:'#000',standoff:0,startstandoff:0});
  layout.annotations.push({xref:'paper',yref:'paper',x:PX(g.x0),y:PY(g.y0-ylen),ax:0,ay:ylen,text:'',showarrow:true,arrowhead:2,arrowsize:1,arrowwidth:1,arrowcolor:'#000',standoff:0,startstandoff:0});
  layout.annotations.push({xref:'paper',yref:'paper',x:PX(g.x0+3.5),y:PY(g.y100-5.5),text:'Accuracy',showarrow:false,xanchor:'left',yanchor:'middle',font:{family:serif,size:9.5,color:'#222'}});
  const epochX=Math.min(g.x200-7.5, 793-24);
  layout.annotations.push({xref:'paper',yref:'paper',x:PX(epochX),y:PY(g.y0-8),text:'Epoch',showarrow:false,xanchor:'left',yanchor:'middle',borderpad:0,font:{family:serif,size:9.5,color:'#222'}});
  layout.annotations.push({xref:'paper',yref:'paper',x:PX(p.cap[0]),y:PY(p.cap[1]),text:captions[idx],showarrow:false,xanchor:'center',yanchor:'middle',font:{family:'DejaVu Serif, serif',size:21,color:'#000'}});
  // legend box (drawn)
  const L=p.leg;
  layout.shapes.push({type:'rect',xref:'paper',yref:'paper',x0:PX(L.l),x1:PX(L.l+L.w),y0:PY(L.t+L.h),y1:PY(L.t),line:{color:'#111',width:1},fillcolor:'#fff',layer:'above'});
  const order = p.kind==='c' ? [[0,2],[1,3]] : [[0,1],[2,3]];
  const rowY=[L.t+L.h*0.27, L.t+L.h*0.76];
  order.forEach((row,r)=>{
    row.forEach((k,c)=>{
      const lx = L.l + (c===0?2.5:L.c2);
      const sty=st[k];
      layout.shapes.push({type:'line',xref:'paper',yref:'paper',x0:PX(lx),x1:PX(lx+20),y0:PY(rowY[r]),y1:PY(rowY[r]),line:{color:sty.c,dash:sty.d,width:sty.d==='solid'?1.8:1.2},layer:'above'});
      layout.annotations.push({xref:'paper',yref:'paper',x:PX(lx+22.5),y:PY(rowY[r]),text:p.names[k],showarrow:false,xanchor:'left',yanchor:'middle',borderpad:0,font:{family:serif,size:8.4,color:'#222'}});
    });
  });
});

Plotly.newPlot('chart',traces,layout,{staticPlot:true,displayModeBar:false});
</script>
</body></html>
